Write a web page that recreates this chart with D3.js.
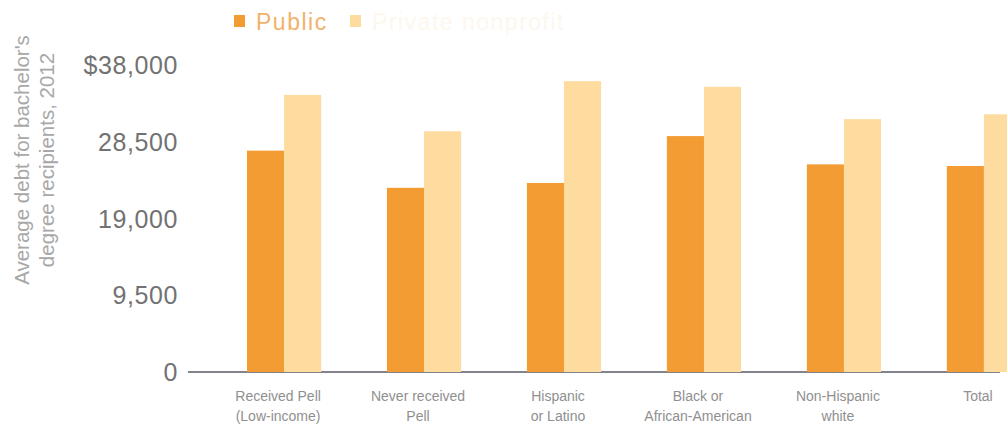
<!DOCTYPE html>
<html>
<head>
<meta charset="utf-8">
<script src="https://cdn.jsdelivr.net/npm/d3@7"></script>
<style>
  body { margin: 0; background: #fff; }
  svg { display: block; font-family: "Liberation Sans", Arial, sans-serif; }
</style>
</head>
<body>
<div id="chart"></div>
<script>
// Chart data
const categories = [
    ['Received Pell', '(Low-income)'],
    ['Never received', 'Pell'],
    ['Hispanic', 'or Latino'],
    ['Black or', 'African-American'],
    ['Non-Hispanic', 'white'],
    ['Total']
];
const seriesNames = ['Public', 'Private nonprofit'];
const publicDebt = [27400, 22800, 23400, 29200, 25700, 25500];
const privateDebt = [34300, 29800, 36000, 35300, 31300, 31900];
const yTicks = [0, 9500, 19000, 28500, 38000];
const colors = ['#f39c33', '#fedca0'];

const width = 1007, height = 431;

const svg = d3.select('#chart')
    .append('svg')
    .attr('width', width)
    .attr('height', height);

// Scales
const xScale = d3.scaleBand()
    .domain(d3.range(categories.length))
    .range([177, 1091])
    .paddingInner(0.47)
    .paddingOuter(0.5);

const xInner = d3.scaleBand()
    .domain(seriesNames)
    .range([0, xScale.bandwidth()]);

const yScale = d3.scaleLinear()
    .domain([0, 38000])
    .range([372, 65]);

// Baseline
svg.append('line')
    .attr('x1', 188)
    .attr('x2', 1000)
    .attr('y1', yScale(0))
    .attr('y2', yScale(0))
    .attr('stroke', '#5a5a66')
    .attr('stroke-width', 1.5);

// Y tick labels
const fmt = d3.format(',');
svg.append('g')
    .selectAll('text')
    .data(yTicks)
    .enter().append('text')
    .attr('x', 178)
    .attr('y', d => yScale(d))
    .attr('dy', '0.36em')
    .attr('text-anchor', 'end')
    .attr('font-size', 25)
    .attr('letter-spacing', 0.6)
    .attr('fill', '#727272')
    .text(d => d === 38000 ? '$' + fmt(d) : fmt(d));

// Y axis title
const yTitle = svg.append('text')
    .attr('transform', 'translate(0,160) rotate(-90)')
    .attr('text-anchor', 'middle')
    .attr('font-size', 20.5)
    .attr('fill', '#a8a8a8');
yTitle.append('tspan').attr('x', 0).attr('y', 29).text("Average debt for bachelor's");
yTitle.append('tspan').attr('x', 0).attr('y', 54).text('degree recipients, 2012');

// Bars
const groups = svg.append('g')
    .selectAll('g')
    .data(categories.map((c, i) => [publicDebt[i], privateDebt[i]]))
    .enter().append('g')
    .attr('transform', (d, i) => `translate(${xScale(i)},0)`);

groups.selectAll('rect')
    .data(d => d.map((v, j) => ({ key: seriesNames[j], value: v, j })))
    .enter().append('rect')
    .attr('x', d => xInner(d.key))
    .attr('y', d => yScale(d.value))
    .attr('width', xInner.bandwidth())
    .attr('height', d => yScale(0) - yScale(d.value))
    .attr('fill', d => colors[d.j]);

// X category labels
const xLabels = svg.append('g')
    .selectAll('text')
    .data(categories)
    .enter().append('text')
    .attr('x', (d, i) => xScale(i) + xScale.bandwidth() / 2 - 6)
    .attr('y', 401)
    .attr('text-anchor', 'middle')
    .attr('font-size', 14)
    .attr('fill', '#8f8f8f');

xLabels.selectAll('tspan')
    .data(d => d)
    .enter().append('tspan')
    .attr('x', function () { return d3.select(this.parentNode).attr('x'); })
    .attr('dy', (d, i) => i === 0 ? 0 : 20)
    .text(d => d);

// Legend
const legend = svg.append('g');
const legendX = [234, 350];
const legendText = ['#f2b26c', '#fdf7ed'];
seriesNames.forEach((name, i) => {
    legend.append('rect')
        .attr('x', legendX[i])
        .attr('y', 15)
        .attr('width', 11)
        .attr('height', 12)
        .attr('fill', colors[i]);
    legend.append('text')
        .attr('x', legendX[i] + 22)
        .attr('y', 22)
        .attr('dy', '0.36em')
        .attr('font-size', 23)
        .attr('letter-spacing', 1.5)
        .attr('fill', legendText[i])
        .text(name);
});
</script>
</body>
</html>
